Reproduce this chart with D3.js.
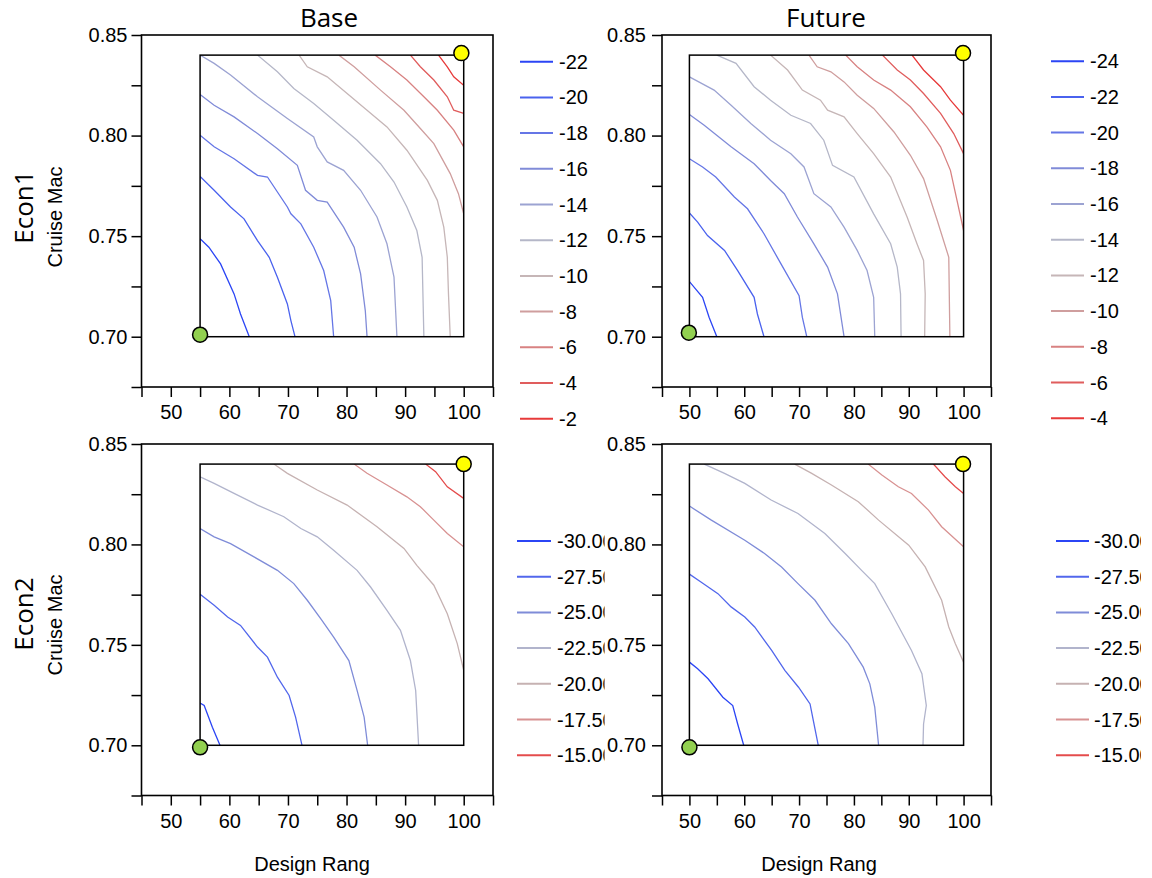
<!DOCTYPE html>
<html><head><meta charset="utf-8">
<script src="https://cdn.jsdelivr.net/npm/d3@7"></script>
<style>
body{margin:0;background:#fff;}
text{font-family:"Liberation Sans",Arial,sans-serif;}
</style></head>
<body><svg id="chart" width="1152" height="878"></svg>
<script>
// ---------- DATA ----------
const colTitles = ["Base", "Future"];
const rowTitles = ["Econ1", "Econ2"];
const xAxisTitle = "Design Rang";
const yAxisTitle = "Cruise Mac";

const xTicks = [45, 50, 55, 60, 65, 70, 75, 80, 85, 90, 95, 100, 105];
const xTickLabels = ["", "50", "", "60", "", "70", "", "80", "", "90", "", "100", ""];
const yTicks = [0.675, 0.70, 0.725, 0.75, 0.775, 0.80, 0.825, 0.85];
const yTickLabels = ["", "0.70", "", "0.75", "", "0.80", "", "0.85"];

const levelsBaseEcon1 = [-22, -20, -18, -16, -14, -12, -10, -8, -6, -4, -2];
const levelsFutureEcon1 = [-24, -22, -20, -18, -16, -14, -12, -10, -8, -6, -4];
const levelsBaseEcon2 = [-30, -27.5, -25, -22.5, -20, -17.5, -15];
const levelsFutureEcon2 = [-30, -27.5, -25, -22.5, -20, -17.5, -15];

// design space boxes [xmin, xmax, ymin, ymax]
const boxBaseEcon1 = [55, 100, 0.70, 0.84];
const boxFutureEcon1 = [50, 100, 0.70, 0.84];
const boxBaseEcon2 = [55, 100, 0.70, 0.84];
const boxFutureEcon2 = [50, 100, 0.70, 0.84];

// start (green) / optimum (yellow) points
const greenBaseEcon1 = [55, 0.701], yellowBaseEcon1 = [99.6, 0.841];
const greenFutureEcon1 = [49.9, 0.702], yellowFutureEcon1 = [99.9, 0.841];
const greenBaseEcon2 = [55, 0.699], yellowBaseEcon2 = [100, 0.84];
const greenFutureEcon2 = [50, 0.699], yellowFutureEcon2 = [99.9, 0.84];

// contour polylines, one per level, [designRange, cruiseMach]
const linesBaseEcon1 = [
 [[55,0.7487],[56.5,0.7445],[58.5,0.7362],[60.8,0.7213],[61.9,0.7113],[63.4,0.70]],
 [[55,0.7797],[57.4,0.7728],[60.2,0.7645],[62.5,0.7586],[64.8,0.7478],[66.8,0.7395],[68.2,0.7296],[69.9,0.7163],[70.5,0.708],[71.2,0.70]],
 [[55,0.8002],[57.4,0.7944],[60.8,0.7885],[64.8,0.7802],[66.5,0.7794],[69.9,0.7645],[70.5,0.7611],[72.2,0.7561],[74.4,0.7445],[76.1,0.7329],[77.3,0.7179],[77.8,0.70]],
 [[55,0.8204],[57.4,0.8151],[60.8,0.8093],[64.8,0.801],[68.2,0.7935],[71.6,0.7852],[73.0,0.7728],[75.0,0.7678],[76.7,0.7669],[79.5,0.7545],[81.3,0.7445],[82.4,0.7312],[83.2,0.713],[83.5,0.70]],
 [[55,0.84],[57.4,0.8359],[60.2,0.8301],[64.8,0.8193],[69.9,0.8085],[74.4,0.7993],[75.0,0.7944],[76.7,0.7869],[79.5,0.7827],[82.4,0.7728],[85.2,0.7595],[86.9,0.7462],[88.1,0.7296],[88.6,0.70]],
 [[64.8,0.84],[68.2,0.8317],[71.0,0.8234],[74.4,0.816],[77.8,0.8076],[81.8,0.7977],[85.8,0.786],[88.1,0.7769],[90.3,0.7645],[92.0,0.7528],[92.9,0.7395],[93.2,0.70]],
 [[71.9,0.84],[73.3,0.8342],[76.7,0.8292],[80.1,0.8209],[83.5,0.8126],[86.9,0.8043],[90.3,0.7927],[93.8,0.7777],[95.5,0.7678],[96.6,0.7545],[97.2,0.7395],[97.4,0.7213],[97.7,0.70]],
 [[78.7,0.84],[81.3,0.8342],[85.8,0.8226],[89.8,0.8126],[92.6,0.8035],[94.9,0.796],[97.7,0.7811],[99.1,0.7711],[100,0.7611]],
 [[84.9,0.84],[87.5,0.8342],[90.3,0.8276],[93.2,0.8193],[95.5,0.8126],[98.3,0.8027],[100,0.7944]],
 [[90.9,0.84],[92.6,0.8342],[94.9,0.8276],[97.2,0.8193],[98.3,0.8126],[100,0.811]],
 [[95.7,0.84],[97.2,0.8342],[98.3,0.8292],[100,0.825]]
];
const linesFutureEcon1 = [
 [[50,0.7274],[52.4,0.7196],[53.6,0.7096],[55.0,0.70]],
 [[50,0.7615],[51.5,0.757],[53.3,0.7503],[56.4,0.7429],[58.8,0.7329],[61.8,0.7196],[62.4,0.7113],[63.6,0.70]],
 [[50,0.7885],[52.4,0.7844],[54.8,0.7794],[58.2,0.7695],[60.6,0.7636],[63.6,0.7512],[66.7,0.7362],[70.0,0.7204],[70.6,0.7096],[71.4,0.70]],
 [[50,0.8105],[52.7,0.8051],[57.6,0.7944],[61.8,0.786],[64.8,0.7777],[67.3,0.7711],[69.7,0.7595],[72.7,0.7462],[75.2,0.7346],[77.0,0.7213],[78.2,0.70]],
 [[50,0.8292],[54.5,0.8226],[57.6,0.8151],[61.2,0.806],[64.8,0.7977],[68.5,0.791],[70.9,0.7844],[72.7,0.7711],[75.8,0.7645],[78.2,0.7545],[80.6,0.7429],[82.4,0.7329],[83.6,0.7196],[83.8,0.70]],
 [[55.0,0.84],[58.5,0.8359],[61.8,0.8243],[64.8,0.8176],[68.5,0.8101],[72.1,0.806],[74.5,0.7977],[76.1,0.7852],[80.0,0.7794],[83.6,0.7611],[86.7,0.7462],[87.9,0.7346],[88.5,0.7213],[88.6,0.70]],
 [[64.8,0.84],[67.9,0.8326],[70.6,0.8226],[73.9,0.8176],[75.2,0.8126],[78.2,0.8093],[80.6,0.801],[83.6,0.791],[86.7,0.7794],[89.7,0.7595],[91.5,0.7462],[92.7,0.7379],[93.0,0.7213],[92.9,0.70]],
 [[71.8,0.84],[73.3,0.8342],[75.8,0.8317],[78.2,0.8267],[80.6,0.8201],[83.6,0.8135],[87.3,0.8018],[90.3,0.7902],[92.7,0.7786],[95.2,0.7578],[97.3,0.7395],[97.5,0.70]],
 [[78.5,0.84],[80.6,0.8342],[83.6,0.8276],[86.7,0.8226],[90.3,0.8143],[93.3,0.8043],[95.8,0.7944],[97.6,0.7827],[98.8,0.7678],[100,0.7528]],
 [[85.2,0.84],[87.9,0.8326],[90.3,0.8276],[92.7,0.8209],[95.8,0.811],[98.2,0.801],[100,0.791]],
 [[90.6,0.84],[92.7,0.8326],[95.8,0.8243],[97.6,0.8176],[100,0.8101]]
];
const linesBaseEcon2 = [
 [[55,0.721],[55.7,0.7198],[57.1,0.709],[58.4,0.70]],
 [[55,0.7752],[57.4,0.7697],[59.7,0.7639],[61.9,0.7597],[64.8,0.7489],[66.5,0.7439],[68.2,0.7339],[70.2,0.7248],[71.3,0.714],[72.4,0.70]],
 [[55,0.8079],[57.4,0.8038],[60.2,0.8004],[64.2,0.7938],[68.2,0.7871],[71.0,0.7805],[73.3,0.7722],[75.8,0.7622],[77.8,0.7539],[80.4,0.7422],[81.8,0.7273],[83.0,0.714],[83.6,0.70]],
 [[55,0.8337],[57.4,0.8304],[60.8,0.8254],[64.8,0.8196],[69.3,0.8138],[72.2,0.8079],[75.0,0.8038],[77.8,0.7971],[81.8,0.7871],[84.1,0.7788],[86.9,0.7672],[89.2,0.7572],[90.9,0.7422],[91.8,0.7273],[92.3,0.70]],
 [[67.6,0.84],[69.9,0.8354],[75.0,0.8271],[80.1,0.8196],[85.2,0.8088],[89.8,0.798],[92.0,0.7896],[94.9,0.7797],[97.2,0.7655],[98.9,0.7506],[100,0.7373]],
 [[81.3,0.84],[83.5,0.8354],[86.9,0.8296],[90.3,0.8237],[92.6,0.8188],[94.9,0.8121],[97.2,0.8054],[100,0.7988]],
 [[93.5,0.84],[95.2,0.8362],[97.2,0.8287],[100,0.8229]]
];
const linesFutureEcon2 = [
 [[50,0.7414],[51.5,0.7381],[53.4,0.7331],[56.1,0.7239],[57.9,0.7198],[58.8,0.7106],[59.9,0.70]],
 [[50,0.7852],[52.1,0.7813],[55.2,0.7755],[57.6,0.7689],[60.1,0.7639],[61.9,0.7589],[65.0,0.7472],[67.4,0.7373],[69.9,0.7289],[72.0,0.7206],[72.6,0.7123],[73.5,0.70]],
 [[50,0.8191],[54.0,0.8121],[60.1,0.8021],[63.7,0.7955],[66.8,0.7888],[69.8,0.7805],[72.9,0.7722],[75.9,0.7605],[79.0,0.7506],[81.7,0.7389],[82.9,0.7306],[83.8,0.719],[84.5,0.70]],
 [[52.7,0.84],[56.4,0.8354],[60.1,0.8304],[64.9,0.8221],[69.8,0.8154],[74.7,0.8054],[78.4,0.7955],[81.4,0.7871],[83.8,0.7805],[86.9,0.7655],[90.5,0.7472],[92.4,0.7356],[93.2,0.7198],[92.7,0.7106],[92.6,0.70]],
 [[69.2,0.84],[72.3,0.8354],[75.9,0.8296],[80.8,0.8213],[84.5,0.8121],[90.0,0.7996],[93.0,0.7888],[96.0,0.7722],[97.3,0.7589],[98.5,0.7506],[100,0.7414]],
 [[82.6,0.84],[85.1,0.8346],[88.1,0.8287],[90.5,0.8254],[93.6,0.8171],[96.0,0.8088],[100,0.7988]],
 [[94.5,0.84],[96.6,0.8337],[98.5,0.8287],[100,0.8254]]
];

// ---------- STYLE ----------
const palette11 = ["#2b45f5","#4a62ee","#6576e6","#808bd8","#9ca3d2","#b5b7c8","#c6b6b7","#cf9e9e","#d88282","#e05d5d","#e73a3a"];
const palette7 = ["#2b45f5","#5267ec","#7f8cd8","#b1b4cc","#c6b2b2","#d89292","#e44c4c"];

const loc = d3.formatLocale({decimal: ".", thousands: ",", grouping: [3], currency: ["", ""], minus: "-"});

const panels = [
  {levels: levelsBaseEcon1, lines: linesBaseEcon1, box: boxBaseEcon1, green: greenBaseEcon1, yellow: yellowBaseEcon1,
   L: 141.5, R: 493, T: 35, B: 387, pad: 4, colors: palette11, fmt: loc.format("d"),
   leg: {x1: 520, x2: 553, tx: 559, y0: 61.7, clip: null}},
  {levels: levelsFutureEcon1, lines: linesFutureEcon1, box: boxFutureEcon1, green: greenFutureEcon1, yellow: yellowFutureEcon1,
   L: 662, R: 991, T: 35, B: 387, pad: 6, colors: palette11, fmt: loc.format("d"),
   leg: {x1: 1051, x2: 1084, tx: 1090, y0: 61.2, clip: null}},
  {levels: levelsBaseEcon2, lines: linesBaseEcon2, box: boxBaseEcon2, green: greenBaseEcon2, yellow: yellowBaseEcon2,
   L: 141.5, R: 493, T: 444, B: 795.5, pad: 4, colors: palette7, fmt: loc.format(".3f"),
   leg: {x1: 517, x2: 551, tx: 557, y0: 541, clip: 604.5}},
  {levels: levelsFutureEcon2, lines: linesFutureEcon2, box: boxFutureEcon2, green: greenFutureEcon2, yellow: yellowFutureEcon2,
   L: 662, R: 991, T: 444, B: 795.5, pad: 6, colors: palette7, fmt: loc.format(".3f"),
   leg: {x1: 1056, x2: 1089, tx: 1094, y0: 541, clip: 1141}}
];

const svg = d3.select("#chart");
svg.append("rect").attr("width", 1152).attr("height", 878).attr("fill", "#fff");
const defs = svg.append("defs");

panels.forEach((p, i) => {
  const x = d3.scaleLinear().domain([45, 105]).range([p.L, p.R]);
  const y = d3.scaleLinear().domain([0.675, 0.85]).range([p.B, p.T]);
  const g = svg.append("g");

  // axes
  const xa = g.append("g").attr("transform", `translate(0,${p.B})`)
    .call(d3.axisBottom(x).tickValues(xTicks).tickSize(10).tickPadding(8)
      .tickFormat((d, k) => xTickLabels[k]));
  const ya = g.append("g").attr("transform", `translate(${p.L},0)`)
    .call(d3.axisLeft(y).tickValues(yTicks).tickSize(10).tickPadding(p.pad)
      .tickFormat((d, k) => yTickLabels[k]));
  [xa, ya].forEach(a => {
    a.select(".domain").remove();
    a.selectAll(".tick line").attr("stroke", "#000").attr("stroke-width", 1.5);
    a.selectAll(".tick text").attr("fill", "#000").style("font-size", "20px")
      .style("font-family", '"Liberation Sans", Arial, sans-serif');
  });

  // frame
  g.append("rect").attr("x", p.L).attr("y", p.T).attr("width", p.R - p.L).attr("height", p.B - p.T)
    .attr("fill", "none").attr("stroke", "#000").attr("stroke-width", 1.6);

  // clip for contours
  const cid = "clip" + i;
  defs.append("clipPath").attr("id", cid).append("rect")
    .attr("x", x(p.box[0])).attr("y", y(p.box[3]))
    .attr("width", x(p.box[1]) - x(p.box[0])).attr("height", y(p.box[2]) - y(p.box[3]));

  const line = d3.line().x(d => x(d[0])).y(d => y(d[1]));
  g.append("g").attr("clip-path", `url(#${cid})`)
    .selectAll("path").data(p.lines).join("path")
    .attr("d", line).attr("fill", "none")
    .attr("stroke", (d, k) => p.colors[k]).attr("stroke-width", 1.3);

  // design box
  g.append("rect").attr("x", x(p.box[0])).attr("y", y(p.box[3]))
    .attr("width", x(p.box[1]) - x(p.box[0])).attr("height", y(p.box[2]) - y(p.box[3]))
    .attr("fill", "none").attr("stroke", "#000").attr("stroke-width", 1.5);

  // points
  g.append("circle").attr("cx", x(p.green[0])).attr("cy", y(p.green[1])).attr("r", 7.5)
    .attr("fill", "#92d050").attr("stroke", "#000").attr("stroke-width", 1.5);
  g.append("circle").attr("cx", x(p.yellow[0])).attr("cy", y(p.yellow[1])).attr("r", 7.5)
    .attr("fill", "#ffff00").attr("stroke", "#000").attr("stroke-width", 1.5);

  // legend
  const lg = svg.append("g");
  if (p.leg.clip) {
    const lid = "lclip" + i;
    defs.append("clipPath").attr("id", lid).append("rect")
      .attr("x", p.leg.x1 - 5).attr("y", 0).attr("width", p.leg.clip - p.leg.x1 + 5).attr("height", 878);
    lg.attr("clip-path", `url(#${lid})`);
  }
  const rows = lg.selectAll("g").data(p.levels).join("g")
    .attr("transform", (d, k) => `translate(0,${p.leg.y0 + k * 35.7})`);
  rows.append("line").attr("x1", p.leg.x1).attr("x2", p.leg.x2)
    .attr("stroke", (d, k) => p.colors[k]).attr("stroke-width", 2);
  rows.append("text").attr("x", p.leg.tx).attr("dy", "0.35em")
    .style("font-size", "20px").attr("fill", "#000").text(d => p.fmt(d));
});

// titles
const xColCenters = [329, 826];
colTitles.forEach((t, i) => {
  svg.append("text").attr("x", xColCenters[i]).attr("y", 27).attr("text-anchor", "middle")
    .style("font-family", '"Open Sans", sans-serif').style("font-size", "26px").text(t);
});
const rowCenters = [207, 614];
const cruiseCenters = [217, 625];
rowTitles.forEach((t, i) => {
  svg.append("text").attr("transform", `translate(33,${rowCenters[i]}) rotate(-90)`)
    .attr("text-anchor", "middle")
    .style("font-family", '"Open Sans", sans-serif').style("font-size", "26px").text(t);
  svg.append("text").attr("transform", `translate(62,${cruiseCenters[i]}) rotate(-90)`)
    .attr("text-anchor", "middle").style("font-size", "20px").text(yAxisTitle);
});
[312, 819].forEach(cx => {
  svg.append("text").attr("x", cx).attr("y", 871).attr("text-anchor", "middle")
    .style("font-size", "20px").text(xAxisTitle);
});
</script></body></html>
